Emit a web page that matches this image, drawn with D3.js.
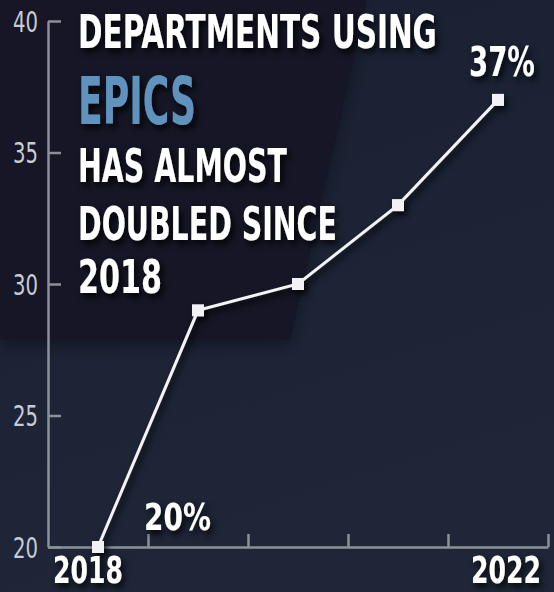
<!DOCTYPE html>
<html lang="en">
<head>
  <meta charset="UTF-8" />
  <title>Departments using EPICS</title>
  <style>
  body {
    margin: 0;
    background: #1b2334;
  }
  text {
    font-family: "Liberation Sans Narrow", "DejaVu Sans Condensed", "Roboto", sans-serif;
  }
  .axis path, .axis line {
    stroke: #8d9099;
    stroke-width: 2.5;
  }
  .axis text {
    fill: #c9ccd4;
    font-size: 28px;
  }
  </style>
</head>
<body>

  <script src="https://cdn.jsdelivr.net/npm/d3@7/dist/d3.min.js"></script>
  <script>
  var w = 554,
      h = 592;

  var years = ["2018", "2019", "2020", "2021", "2022"];
  var values = [20, 29, 30, 33, 37];
  var yTicks = [20, 25, 30, 35, 40];
  var xTickSteps = [1, 2, 3, 4, 5];
  var yearLabels = ["2018", "2022"];
  var pctLabels = ["20%", "37%"];
  var titleLines = ["DEPARTMENTS USING", "EPICS", "HAS ALMOST", "DOUBLED SINCE", "2018"];

  var svg = d3.select("body").append("svg")
    .attr("width", w)
    .attr("height", h);

  var defs = svg.append("defs");

  var grad = defs.append("linearGradient")
    .attr("id", "bg")
    .attr("x1", 0).attr("y1", 0)
    .attr("x2", 0.3).attr("y2", 1);
  grad.append("stop").attr("offset", "0%").attr("stop-color", "#182031");
  grad.append("stop").attr("offset", "100%").attr("stop-color", "#1e2638");

  var shadow = defs.append("filter")
    .attr("id", "shadow")
    .attr("x", "-20%").attr("y", "-20%")
    .attr("width", "150%").attr("height", "160%");
  shadow.append("feDropShadow")
    .attr("dx", 3).attr("dy", 4)
    .attr("stdDeviation", 3)
    .attr("flood-color", "#000")
    .attr("flood-opacity", 0.85);

  var panelShadow = defs.append("filter")
    .attr("id", "panelShadow")
    .attr("x", "-10%").attr("y", "-10%")
    .attr("width", "130%").attr("height", "130%");
  panelShadow.append("feDropShadow")
    .attr("dx", 0).attr("dy", 6)
    .attr("stdDeviation", 8)
    .attr("flood-color", "#000")
    .attr("flood-opacity", 0.35);

  svg.append("rect")
    .attr("width", w)
    .attr("height", h)
    .attr("fill", "url(#bg)");

  // darker panel behind the headline
  svg.append("path")
    .attr("d", "M0,0 L367,0 L290,340 L0,340 Z")
    .attr("fill", "#121927")
    .attr("filter", "url(#panelShadow)");

  var xScale = d3.scaleBand()
    .domain(years)
    .range([48, 548]);

  var xTickScale = d3.scaleLinear()
    .domain([0, 5])
    .range([48, 548]);

  var yScale = d3.scaleLinear()
    .domain([20, 40])
    .range([547, 21]);

  function xPos(d) {
    return xScale(d) + xScale.bandwidth() / 2;
  }

  // squeeze a text into a given width (the reference uses a tall condensed face)
  function fit(sel, x, y, width) {
    sel.each(function() {
      var len = this.getComputedTextLength();
      d3.select(this)
        .attr("x", 0).attr("y", 0)
        .attr("transform", "translate(" + x + "," + y + ") scale(" + (width / len) + ",1)");
    });
  }

  // y axis, ticks pointing inwards
  var yAxis = svg.append("g")
    .attr("class", "axis")
    .attr("transform", "translate(48,0)")
    .call(d3.axisLeft(yScale)
      .tickValues(yTicks)
      .tickSizeInner(-13)
      .tickSizeOuter(0)
      .tickPadding(10));

  yAxis.selectAll(".tick text")
    .attr("dy", "0.36em")
    .attr("transform", "scale(0.78,1)")
    .attr("x", -10 / 0.78);

  // x axis, ticks pointing up, no labels
  svg.append("g")
    .attr("class", "axis")
    .attr("transform", "translate(0,547)")
    .call(d3.axisBottom(xTickScale)
      .tickValues(xTickSteps)
      .tickSizeInner(-13)
      .tickSizeOuter(0)
      .tickFormat(""));

  // headline
  var titleX = 78;
  var titleRows = [
    {base: 48, size: 47, len: 359, color: "#ffffff"},
    {base: 124, size: 65, len: 118, color: "#5f92bd"},
    {base: 182, size: 47, len: 209, color: "#ffffff"},
    {base: 240, size: 47, len: 259, color: "#ffffff"},
    {base: 293, size: 47, len: 84, color: "#ffffff"}
  ];

  svg.append("g")
    .attr("filter", "url(#shadow)")
    .selectAll("text")
    .data(titleLines)
    .enter()
    .append("text")
      .attr("font-size", function(d, i) { return titleRows[i].size; })
      .attr("font-weight", "bold")
      .attr("fill", function(d, i) { return titleRows[i].color; })
      .text(function(d) { return d; })
      .each(function(d, i) {
        fit(d3.select(this), titleX, titleRows[i].base, titleRows[i].len);
      });

  var line = d3.line()
    .x(function(d, i) { return xPos(years[i]); })
    .y(function(d) { return yScale(d); });

  var series = svg.append("g")
    .attr("filter", "url(#shadow)");

  series.append("path")
    .datum(values)
    .attr("d", line)
    .attr("fill", "none")
    .attr("stroke", "#f4f4f6")
    .attr("stroke-width", 3);

  series.selectAll("rect")
    .data(values)
    .enter()
    .append("rect")
      .attr("x", function(d, i) { return xPos(years[i]) - 6; })
      .attr("y", function(d) { return yScale(d) - 6; })
      .attr("width", 12)
      .attr("height", 12)
      .attr("fill", "#f2f2f4");

  // value labels on first and last point
  var first = 0, last = values.length - 1;
  var labelG = svg.append("g")
    .attr("filter", "url(#shadow)")
    .attr("fill", "#ffffff")
    .attr("font-weight", "bold");

  labelG.append("text")
    .attr("font-size", 38)
    .text(pctLabels[0])
    .call(fit, xPos(years[first]) + 46, yScale(values[first]) - 17, 67);

  labelG.append("text")
    .attr("font-size", 40)
    .text(pctLabels[1])
    .call(fit, xPos(years[last]) - 29, yScale(values[last]) - 24, 66);

  // year labels under the axis
  labelG.selectAll(".year")
    .data(yearLabels)
    .enter()
    .append("text")
      .attr("class", "year")
      .attr("font-size", 38)
      .text(function(d) { return d; })
      .each(function(d, i) {
        fit(d3.select(this), i == 0 ? xPos(d) - 45 : xPos(d) - 27, 583, 70);
      });
  </script>
</body>
</html>
